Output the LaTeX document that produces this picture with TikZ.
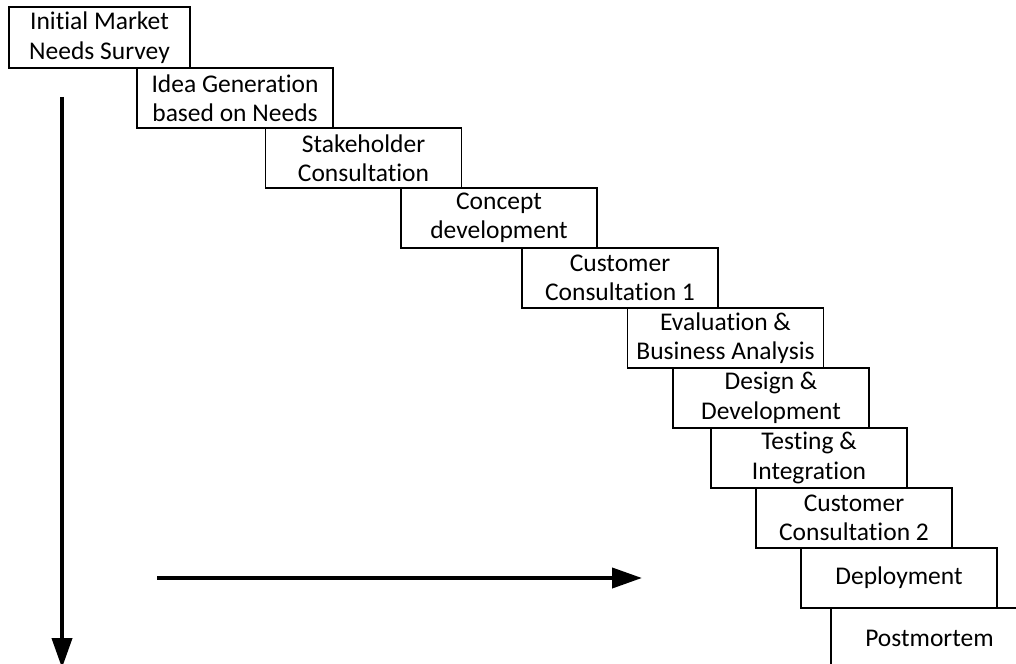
\documentclass[tikz,border=0pt]{standalone}
\usepackage{fontspec}
\setmainfont[Ligatures=NoCommon]{Carlito}
\usetikzlibrary{arrows.meta}
\begin{document}
\begin{tikzpicture}[x=1bp,y=-1bp,
  stage/.style={draw=black, line width=1.1bp, minimum width=196bp, minimum height=60bp,
    inner sep=0pt, align=center, font=\fontsize{25.5bp}{29.5bp}\selectfont},
  bigarrow/.style={line width=4bp, -{Triangle[length=30bp,width=20bp]}}]
\useasboundingbox (0,0) rectangle (1016,664);
\clip (0,0) rectangle (1016,664);
\node[stage, minimum width=181bp, minimum height=61bp] (s1) at (99.5,37.5) {Initial Market\\Needs Survey};
\node[stage] (s2) at (235,98) {Idea Generation\\based on Needs};
\node[stage] (s3) at (363.5,158) {Stakeholder\\Consultation};
\node[stage] (s4) at (499,218) {Concept\\development};
\node[stage] (s5) at (620,278) {Customer\\Consultation 1};
\node[stage] (s6) at (725.5,338) {Evaluation \&\\Business Analysis};
\node[stage] (s7) at (771,398) {Design \&\\Development};
\node[stage] (s8) at (809,458) {Testing \&\\Integration};
\node[stage] (s9) at (854,518) {Customer\\Consultation 2};
\node[stage] (s10) at (899,578) {Deployment};
\node[stage, minimum width=197bp] (s11) at (929.5,638) {Postmortem};
\coordinate (vstart) at (62,97);
\coordinate (vend) at (62,668);
\coordinate (hstart) at (157,578);
\coordinate (hend) at (642,578);
\draw[bigarrow] (vstart) -- (vend);
\draw[bigarrow] (hstart) -- (hend);
\end{tikzpicture}
\end{document}
